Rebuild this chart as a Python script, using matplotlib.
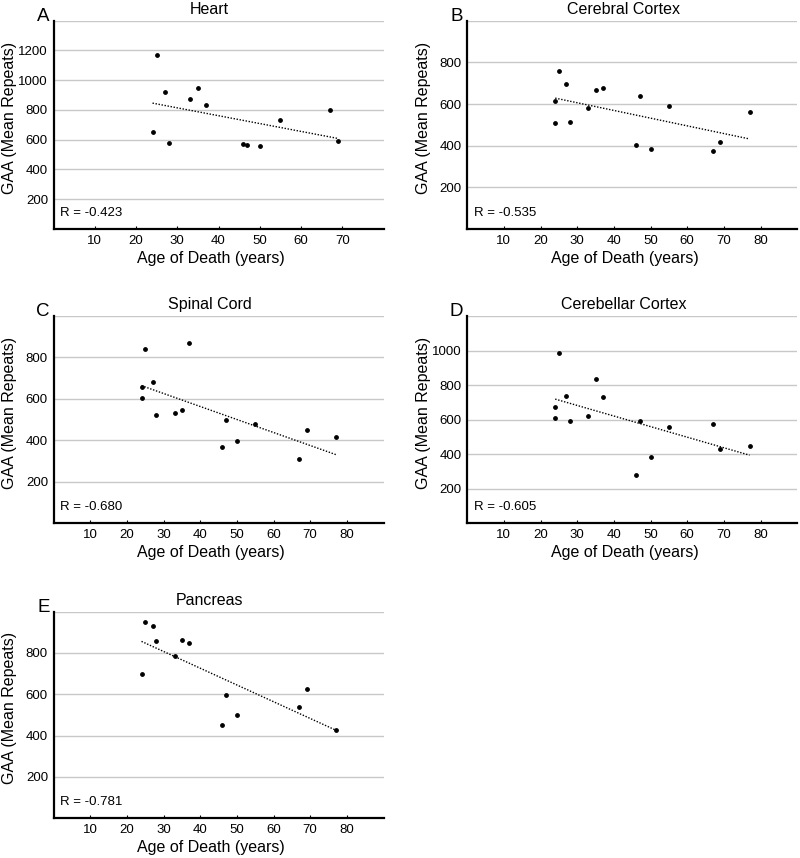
import numpy as np
import matplotlib
matplotlib.use("Agg")
import matplotlib.pyplot as plt

plt.rcParams['font.family'] = ['Liberation Sans', 'DejaVu Sans']

# data
heart_age = [24, 25, 27, 28, 33, 35, 37, 46, 47, 50, 55, 67, 69]
heart_gaa = [650, 1170, 920, 575, 874, 946, 831, 571, 564, 557, 730, 800, 589]

cortex_age = [24, 24, 25, 27, 28, 33, 35, 37, 46, 47, 50, 55, 67, 69, 77]
cortex_gaa = [613, 510, 758, 694, 515, 579, 667, 675, 404, 637, 383, 590, 373, 416, 560]

spinal_age = [24, 24, 25, 27, 28, 33, 35, 37, 46, 47, 50, 55, 67, 69, 77]
spinal_gaa = [659, 607, 843, 680, 521, 532, 547, 871, 367, 500, 399, 478, 311, 450, 418]

cerebellar_age = [24, 24, 25, 27, 28, 33, 35, 37, 46, 47, 50, 55, 67, 69, 77]
cerebellar_gaa = [674, 612, 984, 737, 591, 620, 834, 731, 281, 591, 385, 560, 575, 431, 447]

pancreas_age = [24, 25, 27, 28, 33, 35, 37, 46, 47, 50, 67, 69, 77]
pancreas_gaa = [700, 952, 933, 858, 784, 862, 846, 452, 598, 498, 539, 627, 429]

letters = ["A", "B", "C", "D", "E"]
titles = ["Heart", "Cerebral Cortex", "Spinal Cord", "Cerebellar Cortex", "Pancreas"]
r_values = ["-0.423", "-0.535", "-0.680", "-0.605", "-0.781"]
y_tops = [1400, 1000, 1000, 1200, 1000]
x_tops = [80, 90, 90, 90, 90]


def panel(ax, age, gaa, letter, title, r, ytop, xtop):
    ax.set_xlim(0, xtop)
    ax.set_ylim(0, ytop)
    yt = list(range(200, ytop + 1, 200))
    ax.set_yticks(yt)
    ax.set_yticklabels([str(v) for v in yt[:-1]] + [""])
    ax.set_xticks(list(range(10, xtop, 10)))
    ax.grid(axis='y', color='#c8c8c8', lw=1.0)
    ax.set_axisbelow(True)
    for s in ['top', 'right']:
        ax.spines[s].set_visible(False)
    for s in ['left', 'bottom']:
        ax.spines[s].set_linewidth(1.6)
    ax.tick_params(axis='x', direction='in', length=2.5, width=0.8,
                   labelsize=9.5, pad=4)
    ax.tick_params(axis='y', length=0, labelsize=9.5, pad=4)

    ax.scatter(age, gaa, s=6, color='black', zorder=3)
    slope, icpt = np.polyfit(age, gaa, 1)
    xs = np.array([min(age), max(age)])
    ax.plot(xs, slope * xs + icpt, color='black', ls=(0, (1, 1.2)), lw=1.0)

    ax.text(0.02, 0.078, "R = " + r, transform=ax.transAxes,
            fontsize=9.5, va='center', ha='left')
    ax.text(0.473, 1.032, title, transform=ax.transAxes,
            fontsize=11.5, ha='center', va='baseline')
    ax.text(-0.012, 1.0, letter, transform=ax.transAxes,
            fontsize=13.5, ha='right', va='baseline')
    ax.set_xlabel("Age of Death (years)", fontsize=11.5)
    ax.set_ylabel("GAA (Mean Repeats)", fontsize=11.5)
    ax.xaxis.set_label_coords(0.477, -0.105)
    ax.yaxis.set_label_coords(-0.11, 0.535)


fig = plt.figure(figsize=(8, 8.58), dpi=100)
lefts = [0.0669, 0.584, 0.0669, 0.584, 0.0669]
bottoms = [0.7331, 0.7331, 0.3899, 0.3899, 0.0463]
heights = [0.2428, 0.2428, 0.2418, 0.2418, 0.2408]
ages = [heart_age, cortex_age, spinal_age, cerebellar_age, pancreas_age]
gaas = [heart_gaa, cortex_gaa, spinal_gaa, cerebellar_gaa, pancreas_gaa]

for i in range(5):
    ax = fig.add_axes([lefts[i], bottoms[i], 0.4125, heights[i]])
    panel(ax, ages[i], gaas[i], letters[i], titles[i], r_values[i],
          y_tops[i], x_tops[i])

fig.savefig("out.png", dpi=100)
